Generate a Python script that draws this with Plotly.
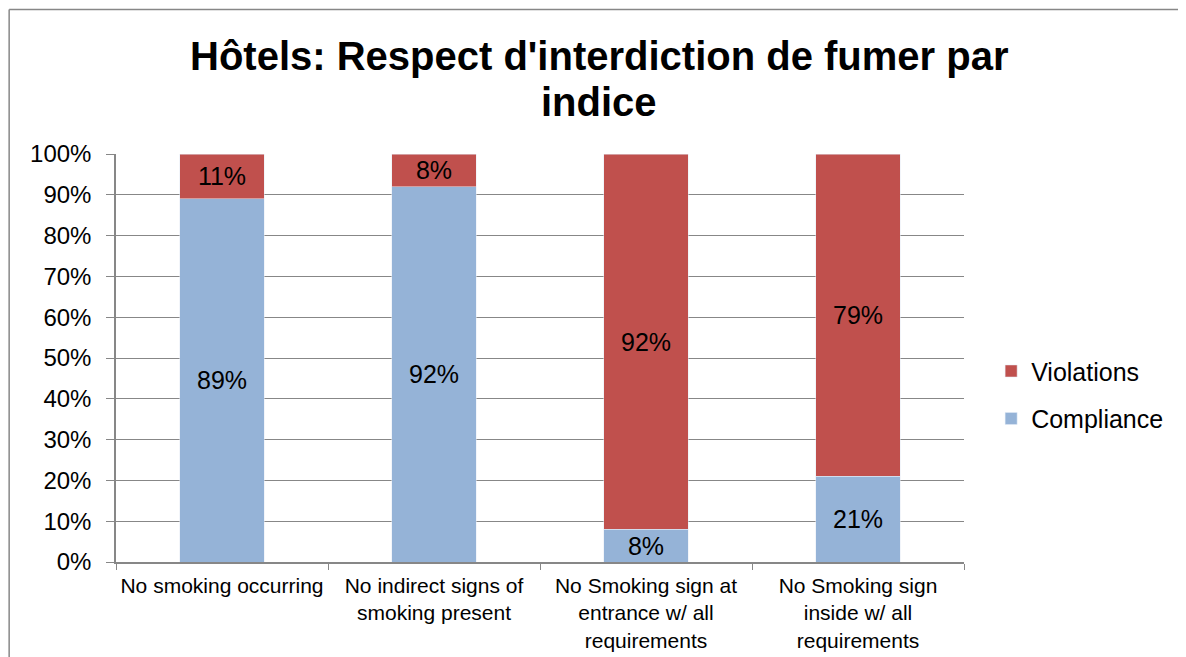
import plotly.graph_objects as go

categories = [
    "No smoking occurring",
    "No indirect signs of<br>smoking present",
    "No Smoking sign at<br>entrance w/ all<br>requirements",
    "No Smoking sign<br>inside w/ all<br>requirements",
]
compliance = [89, 92, 8, 21]
violations = [11, 8, 92, 79]
y_ticks = [0, 10, 20, 30, 40, 50, 60, 70, 80, 90, 100]
title_lines = ["Hôtels: Respect d'interdiction de fumer par", "indice"]

FONT = "Liberation Sans, Arial, sans-serif"
GREY = "#878787"

fig = go.Figure()

fig.add_trace(go.Bar(
    x=categories, y=compliance, name="Compliance",
    marker_color="#95B3D7", width=0.4,
    text=[f"{v}%" for v in compliance],
    textposition="inside", insidetextanchor="middle",
    constraintext="none",
    textfont=dict(size=25, color="black", family=FONT),
    legendgroup="c", legendrank=2,
))
fig.add_trace(go.Bar(
    x=categories, y=violations, name="Violations",
    marker_color="#C0504D", width=0.4,
    text=[f"{v}%" for v in violations],
    textposition="inside", insidetextanchor="middle",
    constraintext="none",
    textfont=dict(size=25, color="black", family=FONT),
    legendgroup="v", legendrank=1,
))

# page body adds an 8px margin, so the figure is 8px smaller than the window
fig.update_layout(
    barmode="stack",
    width=1178, height=649,
    paper_bgcolor="white", plot_bgcolor="white",
    font=dict(family=FONT, color="black"),
    margin=dict(l=108, r=222, t=146, b=95, autoexpand=False),
    legend=dict(
        traceorder="grouped", x=1.032, xanchor="left", y=0.41, yanchor="middle",
        font=dict(size=25, family=FONT), tracegroupgap=12,
    ),
    showlegend=True,
)

# title lines as separate annotations to get the tighter line spacing
for line, ypos in zip(title_lines, [1.30, 1.187]):
    fig.add_annotation(
        text=f"<b>{line}</b>",
        xref="paper", yref="paper", x=0.570, y=ypos,
        xanchor="center", yanchor="top", showarrow=False,
        font=dict(size=40, family=FONT, color="black"),
    )

fig.update_yaxes(
    range=[0, 100], tickvals=y_ticks, ticktext=[f"{v}%" for v in y_ticks],
    tickfont=dict(size=24, family=FONT),
    showgrid=True, gridcolor=GREY, gridwidth=1,
    showline=True, linecolor=GREY, linewidth=1.5,
    ticks="outside", ticklen=8, tickcolor=GREY,
    ticklabelstandoff=10, zeroline=False, automargin=False,
)
fig.update_xaxes(
    tickfont=dict(size=21, family=FONT), tickangle=0, automargin=False,
    showline=True, linecolor=GREY, linewidth=1.5,
    ticks="outside", ticklen=6, tickcolor=GREY, tickson="boundaries",
    ticklabelstandoff=4,
)

# chart frame: only its left and top edges fall inside the picture
fig.add_shape(type="line", xref="paper", yref="paper",
              x0=-0.126, x1=-0.126, y0=-0.5, y1=1.354,
              line=dict(color=GREY, width=1.5))
fig.add_shape(type="line", xref="paper", yref="paper",
              x0=-0.126, x1=1.5, y0=1.354, y1=1.354,
              line=dict(color=GREY, width=1.5))

fig.write_html("out.html")
